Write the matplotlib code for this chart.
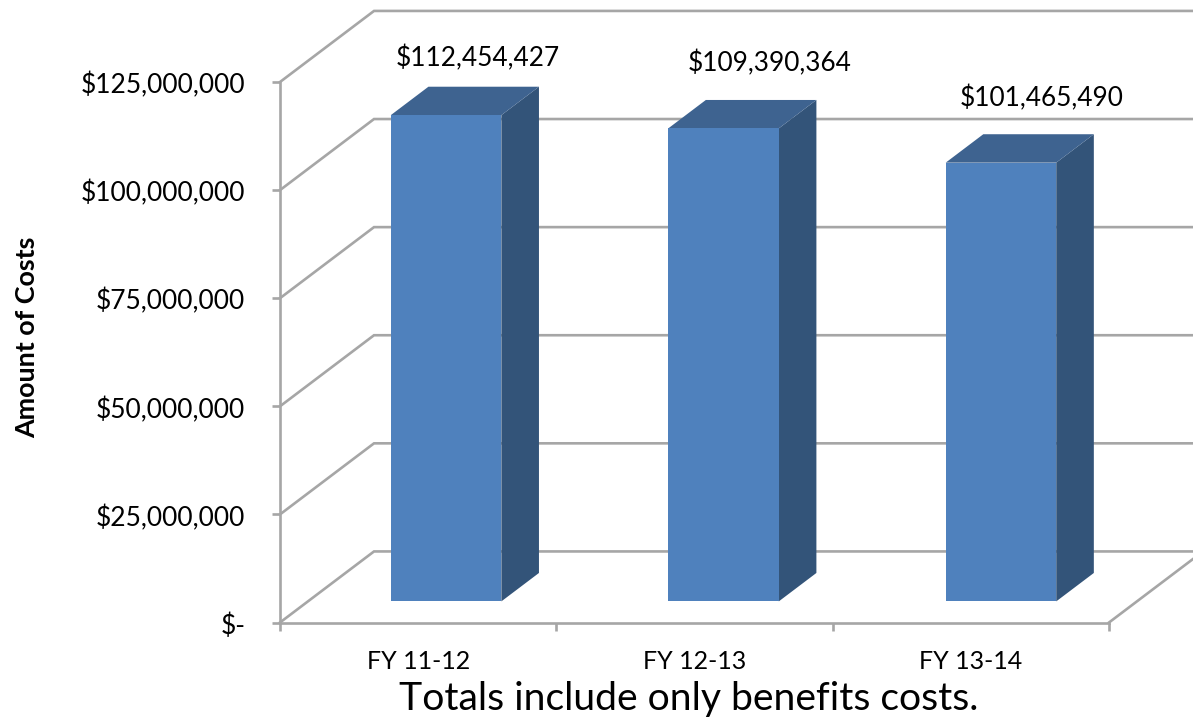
import matplotlib
matplotlib.use('Agg')
import matplotlib.pyplot as plt
from matplotlib.patches import Polygon
from matplotlib.transforms import ScaledTranslation
import numpy as np

plt.rcParams['font.family'] = ['Lato', 'DejaVu Sans']

categories = ['FY 11-12', 'FY 12-13', 'FY 13-14']
costs = [112454427, 109390364, 101465490]
value_labels = ['$112,454,427', '$109,390,364', '$101,465,490']
y_ticks = [0, 25000000, 50000000, 75000000, 100000000, 125000000]
y_labels = ['$-', '$25,000,000', '$50,000,000', '$75,000,000', '$100,000,000', '$125,000,000']

W, H = 1193, 721
# plot area in pixels
left, right, top, bottom = 280, 1109, 82, 622.5

# 3d look, in data units
WALL_DX = 94 / 276.3
WALL_DY = 71 / 540 * 125000000
BAR_START = 0.297   # how deep the front of the bar sits
BAR_DEPTH = 0.40
BAR_W = 0.400
BAR_STEP = 1.004

GRID = '#a6a6a6'
FRONT = '#4f81bd'
SIDE = '#335479'
TOP = '#3e6390'
LW = 1.9

fig = plt.figure(figsize=(W / 100, H / 100), dpi=100)
ax = fig.add_axes([left / W, 1 - bottom / H, (right - left) / W, (bottom - top) / H])
ax.set_xlim(-0.5, 2.5)
ax.set_ylim(0, 125000000)

for s in ['top', 'right']:
    ax.spines[s].set_visible(False)
for s in ['left', 'bottom']:
    ax.spines[s].set_color(GRID)
    ax.spines[s].set_linewidth(LW)

# walls and floor
for v in y_ticks:
    ax.plot([-0.5, -0.5 + WALL_DX, 2.5 + WALL_DX], [v, v + WALL_DY, v + WALL_DY],
            color=GRID, lw=LW, clip_on=False, zorder=1, solid_joinstyle='miter')
ax.plot([2.5, 2.5 + WALL_DX], [0, WALL_DY], color=GRID, lw=LW, clip_on=False, zorder=1)

# bars
for i, v in enumerate(costs):
    x0 = i * BAR_STEP - BAR_W / 2 + BAR_START * WALL_DX
    x1 = x0 + BAR_W
    y0 = BAR_START * WALL_DY
    y1 = y0 + v
    ddx = BAR_DEPTH * WALL_DX
    ddy = BAR_DEPTH * WALL_DY
    ax.add_patch(Polygon([(x1, y0), (x1 + ddx, y0 + ddy), (x1 + ddx, y1 + ddy), (x1, y1)],
                         facecolor=SIDE, edgecolor='none', clip_on=False, zorder=3))
    ax.add_patch(Polygon([(x0, y1), (x0 + ddx, y1 + ddy), (x1 + ddx, y1 + ddy), (x1, y1)],
                         facecolor=TOP, edgecolor='none', clip_on=False, zorder=3))
    ax.add_patch(Polygon([(x0, y0), (x1, y0), (x1, y1), (x0, y1)],
                         facecolor=FRONT, edgecolor='none', clip_on=False, zorder=4))

label_x = [0.2165, 1.273, 2.255]
label_y = [130400000, 129300000, 121300000]
for i, txt in enumerate(value_labels):
    ax.text(label_x[i], label_y[i], txt, ha='center', va='center', fontsize=18.9, color='black')

ax.set_yticks(y_ticks)
ax.set_yticklabels(y_labels, fontsize=19)
ax.set_xticks([-0.5, 0.5, 1.5, 2.5])
ax.set_xticklabels([''] * 4)
ax.tick_params(axis='y', length=6, width=LW, color=GRID, pad=19)
ax.tick_params(axis='x', length=6, width=LW, color=GRID)
for lab in ax.get_yticklabels():
    lab.set_transform(lab.get_transform() + ScaledTranslation(0, -1 / 100, fig.dpi_scale_trans))

for i, c in enumerate(categories):
    ax.annotate(c, xy=(i, 0), xytext=(0, -39), xycoords='data', textcoords='offset pixels',
                ha='center', va='center', fontsize=18, annotation_clip=False)

fig.text(27 / W, 1 - 337 / H, 'Amount of Costs', rotation=90, ha='center', va='center',
         fontsize=19.4, fontweight='bold')
fig.text(689 / W, 1 - 699 / H, 'Totals include only benefits costs.', ha='center', va='center',
         fontsize=28.2)

fig.savefig('out.png', dpi=100)
